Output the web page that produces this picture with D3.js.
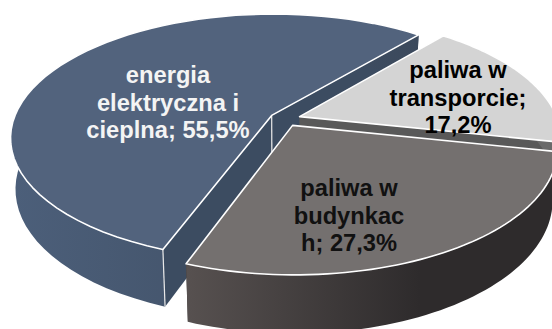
<!DOCTYPE html>
<html>
<head>
<meta charset="utf-8">
<script src="https://cdnjs.cloudflare.com/ajax/libs/d3/7.8.5/d3.min.js"></script>
<style>
html, body { margin: 0; padding: 0; background: #fff; overflow: hidden; }
svg { display: block; }
text { font-family: "Liberation Sans", Arial, sans-serif; font-weight: bold; font-size: 23.7px; text-anchor: middle; }
</style>
</head>
<body>
<div id="chart"></div>
<script>
// slices in drawing order: blue goes first as it sits behind the other two
let categories = ["energia elektryczna i cieplna", "paliwa w transporcie", "paliwa w budynkach"];
let values = [55.5, 17.2, 27.3];
let labelLines = [
    ["energia", "elektryczna i", "cieplna; 55,5%"],
    ["paliwa w", "transporcie;", "17,2%"],
    ["paliwa w", "budynkac", "h; 27,3%"]
];

let width = 552, height = 329;

let topColors = ["#52637d", "#d4d4d4", "#74706f"];
let wallColors = ["#3c4c61", "#595959", "#3a3635"];
let sideColors = [["#4c5f7a", "#3b495c"], ["#6a6a6a", "#555555"], ["#575150", "#2e2b2c"]];
let textColors = ["#f4f4f4", "#000", "#111"];
let labelPos = [[168, 83], [458, 78], [349, 196]];

let rad = Math.PI / 180;
let explode = 0.06;
let thick = 50;
let startDeg = 40;

// perspective: v = 1 is the far side of the disc
let cx = 285, cy = 119, W = 258, H = 120.5, persp = 0.177, shrink = 0.982;

function project(u, v, bottom) {
    let w = 1 + persp * v;
    let s = bottom ? shrink : 1;
    return [cx + W * u / w * s, cy - H * v / w * s + (bottom ? thick / w : 0)];
}

// pie starts at the light slice, clockwise, blue last
let order = [1, 2, 0];
let pie = d3.pie().sort(null).value(d => values[d]).startAngle(startDeg * rad).endAngle(startDeg * rad + 2 * Math.PI);
let arcs = pie(order);

let slices = [0, 1, 2].map(function(i) {
    let a = arcs.find(d => d.data === i);
    let mid = (a.startAngle + a.endAngle) / 2;
    let ox = explode * Math.sin(mid), oy = explode * Math.cos(mid);
    let rim = d3.range(0, 61).map(t => a.startAngle + (a.endAngle - a.startAngle) * t / 60);
    return {
        i: i,
        apexTop: project(ox, oy, false),
        apexBot: project(ox, oy, true),
        rimTop: rim.map(t => project(ox + Math.sin(t), oy + Math.cos(t), false)),
        rimBot: rim.map(t => project(ox + Math.sin(t), oy + Math.cos(t), true))
    };
});

let line = d3.line();
let poly = pts => line(pts) + "Z";

let svg = d3.select("#chart").append("svg").attr("width", width).attr("height", height);
let defs = svg.append("defs");

sideColors.forEach(function(c, i) {
    let g = defs.append("linearGradient").attr("id", "side" + i).attr("gradientUnits", "userSpaceOnUse")
        .attr("x1", d3.min(slices[i].rimTop, d => d[0])).attr("x2", Math.min(d3.max(slices[i].rimTop, d => d[0]), 420))
        .attr("y1", 0).attr("y2", 0);
    g.append("stop").attr("offset", 0).attr("stop-color", c[0]);
    g.append("stop").attr("offset", 1).attr("stop-color", c[1]);
});

let g = svg.append("g");

slices.forEach(function(s) {
    let n = s.rimTop.length - 1;
    let sg = g.append("g").attr("class", "slice");

    // two cut walls, start edge and end edge
    [0, n].forEach(function(k) {
        sg.append("path")
            .attr("d", poly([s.apexTop, s.rimTop[k], s.rimBot[k], s.apexBot]))
            .attr("fill", wallColors[s.i]);
    });

    // outer curved side
    sg.append("path")
        .attr("d", poly(s.rimTop.concat(s.rimBot.slice().reverse())))
        .attr("fill", "url(#side" + s.i + ")");

    // white vertical edges, only the blue slice shows them at the centre
    let edges = s.i === 0 ? [[s.apexTop, s.apexBot], [s.rimTop[0], s.rimBot[0]]] : [];
    edges.forEach(function(e) {
        sg.append("path").attr("d", line(e)).attr("stroke", "#e8e8e8").attr("stroke-width", 1.2).attr("fill", "none");
    });

    // top surface
    sg.append("path")
        .attr("d", poly([s.apexTop].concat(s.rimTop)))
        .attr("fill", topColors[s.i])
        .attr("stroke", "#fff")
        .attr("stroke-width", 1.6)
        .attr("stroke-linejoin", "round");
});

let labels = g.selectAll("text.label").data(labelLines).enter().append("text")
    .attr("class", "label")
    .attr("fill", (d, i) => textColors[i]);

labels.each(function(lines, i) {
    d3.select(this).selectAll("tspan").data(lines).enter().append("tspan")
        .attr("x", labelPos[i][0])
        .attr("y", (d, j) => labelPos[i][1] + j * 27.6)
        .text(d => d);
});
</script>
</body>
</html>
